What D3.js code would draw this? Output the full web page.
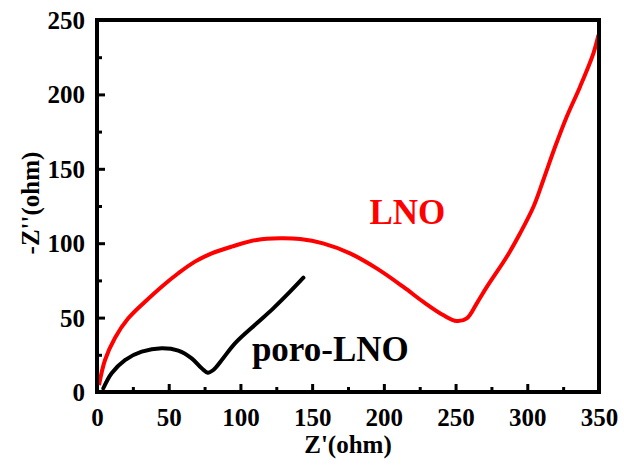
<!DOCTYPE html>
<meta charset="utf-8">
<script src="https://d3js.org/d3.v7.min.js"></script>
<style>
  body { margin: 0; background: #fff; }
  text { font-family: "Liberation Serif", "Times New Roman", serif; font-weight: bold; }
</style>
<svg id="chart" width="624" height="473"></svg>
<script>

// LNO (red) Nyquist curve
var lnoZre = [1.4, 5.6, 12.6, 21.8, 33.5, 45.1, 56.7, 68.3, 80, 93.9, 111.4, 127.6, 141.6, 157.6, 176.4, 195, 213.4, 227.3, 241.3, 250.8, 257.8, 264.8, 271.8, 285.7, 295, 304.3, 311.2, 319.4, 327.5, 336.8, 346.1, 349.6];
var lnoZim = [4.7, 21.5, 36.5, 49.5, 60.7, 70.8, 79.8, 87.6, 93.2, 97.7, 102.2, 103.3, 102.8, 99.9, 93.2, 83.1, 70.8, 60.7, 51.7, 47.7, 49.5, 59.6, 70.6, 90.9, 106.7, 124.5, 142.5, 164.8, 185, 205.2, 227.6, 239.9];

// poro-LNO (black) curve
var poroZre = [4.4, 10.2, 19.5, 31.2, 45.1, 56.7, 66, 73, 77.2, 81.1, 87, 96.2, 111.4, 122.9, 134.6, 143.9];
var poroZim = [2.5, 12.6, 21.5, 27.1, 29.4, 27.8, 22.6, 15.9, 13, 14.8, 21.5, 32.7, 46.2, 56.2, 67.4, 76.8];

var xTicks = [0, 50, 100, 150, 200, 250, 300, 350];
var yTicks = [0, 50, 100, 150, 200, 250];
var xMinor = [25, 75, 125, 175, 225, 275, 325];
var yMinor = [25, 75, 125, 175, 225];

var svg = d3.select("#chart");
var margin = {top: 20, right: 25, bottom: 81, left: 97};
var width = 624 - margin.left - margin.right,
    height = 473 - margin.top - margin.bottom;

var g = svg.append("g").attr("transform", "translate(" + margin.left + "," + margin.top + ")");

var x = d3.scaleLinear().domain([0, 350]).range([0, width]);
var y = d3.scaleLinear().domain([0, 250]).range([height, 0]);

// curves first, frame drawn on top
var line = d3.line()
  .x(function(d) { return x(d[0]); })
  .y(function(d) { return y(d[1]); })
  .curve(d3.curveCatmullRom.alpha(0.5));

g.append("path")
  .datum(d3.zip(lnoZre, lnoZim))
  .attr("d", line)
  .attr("fill", "none")
  .attr("stroke", "#ff0000")
  .attr("stroke-width", 4)
  .attr("stroke-linejoin", "round");

g.append("path")
  .datum(d3.zip(poroZre, poroZim))
  .attr("d", line)
  .attr("fill", "none")
  .attr("stroke", "#000")
  .attr("stroke-width", 4)
  .attr("stroke-linejoin", "round")
  .attr("stroke-linecap", "round");

// inward ticks
var xAxis = g.append("g")
  .attr("transform", "translate(0," + height + ")")
  .call(d3.axisBottom(x).tickValues(xTicks).tickSize(-8).tickPadding(16));
var xAxisMinor = g.append("g")
  .attr("transform", "translate(0," + height + ")")
  .call(d3.axisBottom(x).tickValues(xMinor).tickSize(-5).tickFormat(""));
var yAxis = g.append("g")
  .call(d3.axisLeft(y).tickValues(yTicks).tickSize(-8).tickPadding(12));
var yAxisMinor = g.append("g")
  .call(d3.axisLeft(y).tickValues(yMinor).tickSize(-5).tickFormat(""));

[xAxis, xAxisMinor, yAxis, yAxisMinor].forEach(function(a) {
  a.attr("font-family", null);
  a.select(".domain").remove();
  a.selectAll("line").attr("stroke", "#000").attr("stroke-width", 3);
  a.selectAll("text").attr("fill", "#000").style("font-size", "25px");
});
yAxis.selectAll("text").attr("dy", "0.34em");

// frame
g.append("rect")
  .attr("width", width)
  .attr("height", height)
  .attr("fill", "none")
  .attr("stroke", "#000")
  .attr("stroke-width", 4);

// axis titles
svg.append("text")
  .attr("x", margin.left + width / 2)
  .attr("y", 453)
  .attr("text-anchor", "middle")
  .style("font-size", "25px")
  .text("Z'(ohm)");

svg.append("text")
  .attr("transform", "translate(39,203) rotate(-90)")
  .attr("text-anchor", "middle")
  .style("font-size", "25px")
  .text("-Z''(ohm)");

// series labels
g.append("text")
  .attr("x", x(190))
  .attr("y", y(113))
  .attr("fill", "#ff0000")
  .style("font-size", "35px")
  .text("LNO");

g.append("text")
  .attr("x", x(108))
  .attr("y", y(20.5))
  .attr("fill", "#000")
  .style("font-size", "35px")
  .text("poro-LNO");

</script>
